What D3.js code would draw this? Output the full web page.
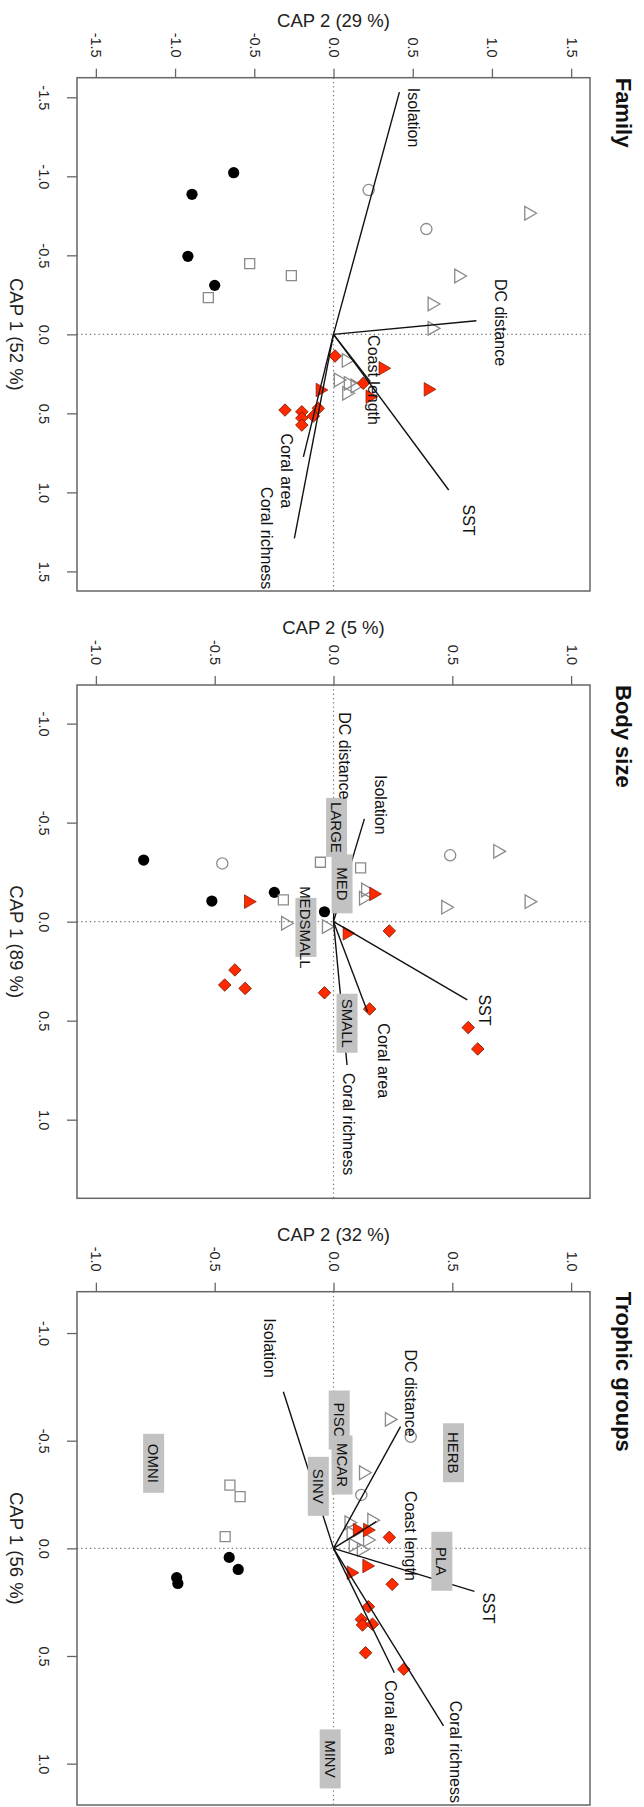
<!DOCTYPE html>
<html>
<head>
<meta charset="utf-8">
<script src="https://cdn.jsdelivr.net/npm/d3@7"></script>
<style>
  body { margin: 0; background: #fff; }
  svg { display: block; font-family: "Liberation Sans", Arial, Helvetica, sans-serif; }
</style>
</head>
<body>
<svg id="fig" width="644" height="1807"></svg>
<script>
// ---- Site scores: [group, CAP1, CAP2] ----
// groups: black = filled circle, ocirc = open circle, osq = open square,
//         otri = open triangle, rtri = red triangle, rdia = red diamond
const familySites = [
  ["black", -1.023, -0.630], ["black", -0.886, -0.893], ["black", -0.494, -0.919], ["black", -0.310, -0.750],
  ["osq", -0.447, -0.529], ["osq", -0.371, -0.266], ["osq", -0.232, -0.790],
  ["ocirc", -0.913, 0.222], ["ocirc", -0.666, 0.586],
  ["otri", -0.766, 1.232], ["otri", -0.369, 0.790], ["otri", -0.192, 0.622], ["otri", -0.038, 0.622],
  ["otri", 0.165, 0.080], ["otri", 0.289, 0.030], ["otri", 0.310, 0.093], ["otri", 0.373, 0.083], ["otri", 0.327, 0.136],
  ["rdia", 0.137, 0.010], ["rdia", 0.310, 0.188], ["rdia", 0.479, -0.306], ["rdia", 0.490, -0.200],
  ["rdia", 0.530, -0.200], ["rdia", 0.574, -0.200], ["rdia", 0.517, -0.127], ["rdia", 0.468, -0.096],
  ["rtri", 0.215, 0.312], ["rtri", 0.348, 0.597], ["rtri", 0.352, -0.085], ["rtri", 0.395, 0.230]
];
const bodySites = [
  ["black", -0.311, -0.799], ["black", -0.104, -0.512], ["black", -0.148, -0.249], ["black", -0.050, -0.038],
  ["ocirc", -0.294, -0.468], ["ocirc", -0.335, 0.491],
  ["osq", -0.300, -0.055], ["osq", -0.272, 0.114], ["osq", -0.110, -0.211],
  ["otri", -0.355, 0.691], ["otri", -0.101, 0.823], ["otri", -0.073, 0.472], ["otri", -0.160, 0.135],
  ["otri", -0.118, 0.126], ["otri", 0.008, -0.202], ["otri", 0.025, -0.030],
  ["rdia", 0.047, 0.235], ["rdia", 0.244, -0.415], ["rdia", 0.320, -0.458], ["rdia", 0.337, -0.372],
  ["rdia", 0.359, -0.038], ["rdia", 0.441, 0.152], ["rdia", 0.535, 0.567], ["rdia", 0.643, 0.607],
  ["rtri", -0.101, -0.358], ["rtri", -0.140, 0.169], ["rtri", 0.059, 0.057]
];
const trophicSites = [
  ["ocirc", -0.518, 0.325], ["ocirc", -0.248, 0.117],
  ["otri", -0.599, 0.235], ["otri", -0.351, 0.126], ["otri", -0.131, 0.161], ["otri", -0.119, 0.065],
  ["otri", -0.070, 0.074], ["otri", -0.039, 0.143], ["otri", -0.015, 0.083], ["otri", 0.005, 0.117],
  ["osq", -0.294, -0.436], ["osq", -0.240, -0.393], ["osq", -0.054, -0.456],
  ["black", 0.042, -0.439], ["black", 0.098, -0.401], ["black", 0.136, -0.660], ["black", 0.163, -0.655],
  ["rdia", -0.051, 0.235], ["rdia", 0.167, 0.247], ["rdia", 0.271, 0.147], ["rdia", 0.330, 0.117],
  ["rdia", 0.356, 0.122], ["rdia", 0.352, 0.164], ["rdia", 0.485, 0.135], ["rdia", 0.561, 0.296],
  ["rtri", -0.085, 0.100], ["rtri", -0.085, 0.143], ["rtri", 0.082, 0.140], ["rtri", 0.113, 0.074]
];

// ---- Environmental vectors: [name, tip CAP1, tip CAP2, label CAP1, label CAP2] ----
const familyVectors = [
  ["Isolation", -1.533, 0.416, -1.372, 0.508],
  ["DC distance", -0.086, 0.902, -0.075, 1.057],
  ["Coast length", 0.300, 0.232, 0.289, 0.254],
  ["SST", 0.985, 0.727, 1.175, 0.853],
  ["Coral area", 0.775, -0.190, 0.864, -0.295],
  ["Coral richness", 1.291, -0.247, 1.290, -0.422]
];
const bodyVectors = [
  ["Isolation", -0.519, 0.130, -0.590, 0.196],
  ["DC distance", -0.450, 0.012, -0.837, 0.048],
  ["SST", 0.395, 0.563, 0.446, 0.636],
  ["Coral area", 0.455, 0.143, 0.702, 0.212],
  ["Coral richness", 0.724, 0.057, 1.022, 0.065]
];
const trophicVectors = [
  ["Isolation", -0.727, -0.211, -0.930, -0.271],
  ["DC distance", -0.565, 0.282, -0.721, 0.325],
  ["Coast length", -0.124, 0.180, -0.058, 0.325],
  ["SST", 0.200, 0.593, 0.277, 0.653],
  ["Coral area", 0.578, 0.256, 0.786, 0.238],
  ["Coral richness", 0.825, 0.463, 0.945, 0.515]
];

// ---- Trait-category centroids: [name, CAP1, CAP2] ----
const familyGroups = [];
const bodyGroups = [
  ["LARGE", -0.476, 0.013], ["MED", -0.191, 0.036], ["MEDSMALL", 0.029, -0.116], ["SMALL", 0.513, 0.057]
];
const trophicGroups = [
  ["HERB", -0.444, 0.505], ["PISC", -0.596, 0.024], ["MCAR", -0.387, 0.036], ["SINV", -0.288, -0.064],
  ["OMNI", -0.395, -0.757], ["PLA", 0.060, 0.456], ["MINV", 0.978, -0.014]
];

// ---- Axis ticks and titles ----
const ticksFamily = [-1.5, -1.0, -0.5, 0.0, 0.5, 1.0, 1.5];
const ticksUnit = [-1.0, -0.5, 0.0, 0.5, 1.0];
const panelTitles = ["Family", "Body size", "Trophic groups"];
const cap1Titles = ["CAP 1 (52 %)", "CAP 1 (89 %)", "CAP 1 (56 %)"];
const cap2Titles = ["CAP 2 (29 %)", "CAP 2 (5 %)", "CAP 2 (32 %)"];

// ---- Layout ----
const LEFT = 77, RIGHT = 590, BOX = 513.3;
const GREY = "#8a8a8a", RED = "#ff2a00", REDLINE = "#7a1800", FRAME = "#666", BOXFILL = "#c2c2c2";

const panels = [
  { top: 77.7, d1: [-1.624, 1.624], d2: [-1.619, 1.619], t1: ticksFamily, t2: ticksFamily,
    sites: familySites, vectors: familyVectors, groups: familyGroups },
  { top: 685.0, d1: [-1.195, 1.397], d2: [-1.0795, 1.0795], t1: ticksUnit, t2: ticksUnit,
    sites: bodySites, vectors: bodyVectors, groups: bodyGroups },
  { top: 1291.7, d1: [-1.192, 1.192], d2: [-1.0795, 1.0795], t1: ticksUnit, t2: ticksUnit,
    sites: trophicSites, vectors: trophicVectors, groups: trophicGroups }
];

const svg = d3.select("#fig");
const defs = svg.append("defs");
const fmt = v => v.toFixed(1);

const symbolStyle = {
  black: { d: d3.symbol(d3.symbolCircle, Math.PI * 5.6 * 5.6)(), rot: 0, fill: "#000", stroke: "none", sw: 0 },
  ocirc: { d: d3.symbol(d3.symbolCircle, Math.PI * 5.6 * 5.6)(), rot: 0, fill: "none", stroke: GREY, sw: 1.3 },
  osq:   { d: d3.symbol(d3.symbolSquare, 100)(), rot: 0, fill: "none", stroke: GREY, sw: 1.3 },
  otri:  { d: d3.symbol(d3.symbolTriangle, 80)(), rot: 90, fill: "none", stroke: GREY, sw: 1.3 },
  rtri:  { d: d3.symbol(d3.symbolTriangle, 80)(), rot: 90, fill: RED, stroke: REDLINE, sw: 0.7 },
  rdia:  { d: d3.symbol(d3.symbolSquare, 78)(), rot: 45, fill: RED, stroke: REDLINE, sw: 0.8 }
};

panels.forEach((p, i) => {
  const top = p.top, bottom = p.top + BOX;
  const x = d3.scaleLinear().domain(p.d2).range([LEFT, RIGHT]);   // CAP 2 runs left → right
  const y = d3.scaleLinear().domain(p.d1).range([top, bottom]);   // CAP 1 runs top → bottom
  const g = svg.append("g");

  defs.append("clipPath").attr("id", "clip" + i)
    .append("rect").attr("x", LEFT).attr("y", top).attr("width", RIGHT - LEFT).attr("height", BOX);
  const plot = g.append("g").attr("clip-path", `url(#clip${i})`);

  // dotted reference lines through the origin
  plot.append("line").attr("x1", LEFT).attr("x2", RIGHT).attr("y1", y(0)).attr("y2", y(0))
    .attr("stroke", "#777").attr("stroke-width", 1.2).attr("stroke-dasharray", "1.3,3");
  plot.append("line").attr("x1", x(0)).attr("x2", x(0)).attr("y1", top).attr("y2", bottom)
    .attr("stroke", "#777").attr("stroke-width", 1.2).attr("stroke-dasharray", "1.3,3");

  // site scores
  plot.selectAll("path.site").data(p.sites).join("path")
    .attr("class", "site")
    .attr("d", d => symbolStyle[d[0]].d)
    .attr("transform", d => `translate(${x(d[2])},${y(d[1])}) rotate(${symbolStyle[d[0]].rot})`)
    .attr("fill", d => symbolStyle[d[0]].fill)
    .attr("stroke", d => symbolStyle[d[0]].stroke)
    .attr("stroke-width", d => symbolStyle[d[0]].sw);

  // environmental vectors
  plot.selectAll("line.vec").data(p.vectors).join("line")
    .attr("class", "vec")
    .attr("x1", x(0)).attr("y1", y(0))
    .attr("x2", d => x(d[2])).attr("y2", d => y(d[1]))
    .attr("stroke", "#111").attr("stroke-width", 1.4);

  // trait-category labels in grey boxes
  const lab = plot.selectAll("g.grp").data(p.groups).join("g")
    .attr("class", "grp")
    .attr("transform", d => `translate(${x(d[2])},${y(d[1])})`);
  lab.append("rect").attr("x", -10.5).attr("y", -29.5).attr("width", 21).attr("height", 59)
    .attr("fill", BOXFILL);
  lab.append("text").attr("transform", "rotate(90)")
    .attr("text-anchor", "middle").attr("dominant-baseline", "central")
    .attr("font-size", 15).attr("fill", "#111")
    .text(d => d[0]);

  // vector names
  plot.selectAll("text.vlab").data(p.vectors).join("text")
    .attr("class", "vlab")
    .attr("transform", d => `translate(${x(d[4])},${y(d[3])}) rotate(90)`)
    .attr("text-anchor", "middle").attr("dominant-baseline", "central")
    .attr("font-size", 16).attr("fill", "#111")
    .text(d => d[0]);

  // frame
  g.append("rect").attr("x", LEFT).attr("y", top).attr("width", RIGHT - LEFT).attr("height", BOX)
    .attr("fill", "none").attr("stroke", FRAME).attr("stroke-width", 1.5);

  // CAP 2 axis along the top
  const ax2 = g.append("g").attr("transform", `translate(0,${top})`)
    .call(d3.axisTop(x).tickValues(p.t2).tickSize(9).tickFormat(fmt));
  ax2.select(".domain").remove();
  ax2.selectAll(".tick line").attr("stroke", FRAME).attr("stroke-width", 1.3);
  ax2.selectAll(".tick text")
    .attr("x", null).attr("y", null).attr("dy", null)
    .attr("transform", "translate(0,-20) rotate(90)")
    .attr("text-anchor", "end").attr("dominant-baseline", "central")
    .attr("font-size", 14.5).attr("fill", "#222")
    .attr("font-family", "Liberation Sans, Arial, sans-serif");

  // CAP 1 axis along the left
  const ax1 = g.append("g").attr("transform", `translate(${LEFT},0)`)
    .call(d3.axisLeft(y).tickValues(p.t1).tickSize(10).tickFormat(fmt));
  ax1.select(".domain").remove();
  ax1.selectAll(".tick line").attr("stroke", FRAME).attr("stroke-width", 1.3);
  ax1.selectAll(".tick text")
    .attr("x", null).attr("y", null).attr("dy", null)
    .attr("transform", "translate(-33,0) rotate(90)")
    .attr("text-anchor", "middle").attr("dominant-baseline", "central")
    .attr("font-size", 14.5).attr("fill", "#222")
    .attr("font-family", "Liberation Sans, Arial, sans-serif");

  // axis titles
  g.append("text").attr("x", (LEFT + RIGHT) / 2).attr("y", top - 51)
    .attr("text-anchor", "middle").attr("font-size", 18.5).attr("fill", "#222")
    .text(cap2Titles[i]);
  g.append("text").attr("transform", `translate(16,${(top + bottom) / 2}) rotate(90)`)
    .attr("text-anchor", "middle").attr("dominant-baseline", "central")
    .attr("font-size", 18.5).attr("fill", "#222")
    .text(cap1Titles[i]);

  // panel title
  g.append("text").attr("transform", `translate(616,${top}) rotate(90)`)
    .attr("text-anchor", "start")
    .attr("font-size", 22).attr("font-weight", "bold").attr("fill", "#111")
    .text(panelTitles[i]);
});
</script>
</body>
</html>
